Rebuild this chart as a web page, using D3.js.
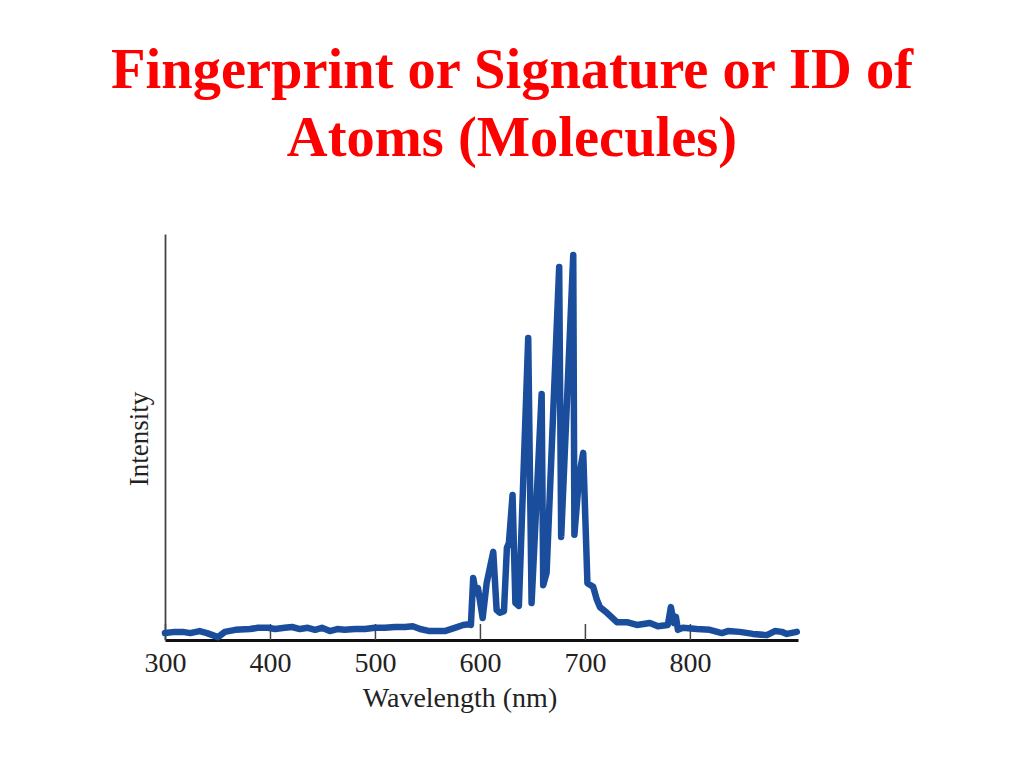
<!DOCTYPE html>
<html>
<head>
<meta charset="utf-8">
<script src="https://cdn.jsdelivr.net/npm/d3@7"></script>
<style>
  html, body { margin: 0; padding: 0; background: #ffffff; }
  svg { display: block; }
</style>
</head>
<body>
<script>
// ---- data ----
const titleLines = ["Fingerprint or Signature or ID of", "Atoms (Molecules)"];
const xLabel = "Wavelength (nm)";
const yLabel = "Intensity";
const xTickValues = [300, 400, 500, 600, 700, 800];

const wavelength = [
  300, 309.5, 317, 324, 333, 340, 350.5, 357, 367, 381, 388.5, 398, 405, 414, 421, 428.5,
  436, 443, 449.5, 457, 464, 471, 481, 490.5, 500, 509.5, 519, 528.5, 536, 543, 552, 566.5,
  576, 584, 589.5, 591.4, 593.6, 596.2, 598.1, 602.6, 606.4, 612.7, 615.9, 619.0, 622.9,
  625.7, 627.6, 631.1, 633.8, 637.1, 646.0, 649.2, 658.8, 660.3, 663.5, 675.5, 677.4,
  688.9, 690.0, 694.6, 698.4, 702.4, 707.9, 711.4, 714.3, 721.0, 730.5, 740.0, 749.5,
  761.9, 769.5, 779.0, 781.9, 784.8, 786.7, 788.6, 793.3, 806.7, 819.0, 830.5, 836.2,
  847.6, 860.0, 873.3, 881.0, 887.6, 892.4, 901.9
];
const intensity = [
  1.7, 2.0, 2.0, 1.7, 2.2, 1.7, 0.7, 2.0, 2.5, 2.7, 3.0, 3.0, 2.7, 3.0, 3.2, 2.7,
  3.0, 2.5, 3.0, 2.2, 2.7, 2.5, 2.7, 2.7, 3.0, 3.0, 3.2, 3.2, 3.4, 2.7, 2.2, 2.2,
  3.0, 3.7, 3.9, 3.7, 15.3, 11.5, 12.8, 5.4, 14.0, 21.7, 7.4, 6.7, 7.1,
  22.7, 23.9, 35.7, 9.1, 8.4, 74.4, 9.1, 60.6, 13.5, 16.5, 91.9, 25.4,
  94.8, 25.9, 40.6, 46.1, 14.0, 13.1, 9.9, 8.1, 6.7, 4.4, 4.4, 3.7,
  4.2, 3.4, 3.7, 8.1, 4.2, 5.7, 2.5, 3.0, 2.7, 2.5, 1.7, 2.2,
  2.0, 1.5, 1.2, 2.2, 2.0, 1.5, 2.0
];

// ---- layout ----
const W = 1024, H = 768;
const svg = d3.select("body").append("svg").attr("width", W).attr("height", H);

const x = d3.scaleLinear().domain([300, 903]).range([165, 798]);
const y = d3.scaleLinear().domain([0, 100]).range([640, 234]);

// title
svg.append("g").selectAll("text").data(titleLines).join("text")
  .attr("x", 512)
  .attr("y", (d, i) => 88 + i * 68)
  .attr("text-anchor", "middle")
  .attr("fill", "#ff0000")
  .attr("font-family", "'Liberation Serif', 'Times New Roman', serif")
  .attr("font-weight", "bold")
  .attr("font-size", 56.5)
  .text(d => d);

// x axis
const xAxis = d3.axisBottom(x)
  .tickValues(xTickValues)
  .tickFormat(d3.format("d"))
  .tickSizeInner(-16)
  .tickSizeOuter(0)
  .tickPadding(12);

const gx = svg.append("g").attr("transform", `translate(0,${y(0)})`).call(xAxis);
gx.select(".domain").attr("stroke", "#111").attr("stroke-width", 3);
gx.selectAll(".tick line").attr("stroke", "#444").attr("stroke-width", 1.5);
gx.selectAll(".tick text")
  .attr("fill", "#222")
  .attr("font-family", "'Liberation Serif', 'Times New Roman', serif")
  .attr("font-size", 28);

// y axis (line only)
const yAxis = d3.axisLeft(y).tickValues([]).tickSizeOuter(0);
const gy = svg.append("g").attr("transform", `translate(${x(300)},0)`).call(yAxis);
gy.select(".domain").attr("stroke", "#444").attr("stroke-width", 1.8);

// axis labels
svg.append("text")
  .attr("x", 460).attr("y", 707)
  .attr("text-anchor", "middle")
  .attr("fill", "#222")
  .attr("font-family", "'Liberation Serif', 'Times New Roman', serif")
  .attr("font-size", 28)
  .text(xLabel);

svg.append("text")
  .attr("transform", "translate(148,439) rotate(-90)")
  .attr("text-anchor", "middle")
  .attr("fill", "#222")
  .attr("font-family", "'Liberation Serif', 'Times New Roman', serif")
  .attr("font-size", 27)
  .text(yLabel);

// spectrum line
const pts = wavelength.map((w, i) => [w, intensity[i]]);
const line = d3.line().x(d => x(d[0])).y(d => y(d[1]));
svg.append("path")
  .datum(pts)
  .attr("d", line)
  .attr("fill", "none")
  .attr("stroke", "#1a4e9c")
  .attr("stroke-width", 6.5)
  .attr("stroke-linejoin", "round")
  .attr("stroke-linecap", "round");
</script>
</body>
</html>
